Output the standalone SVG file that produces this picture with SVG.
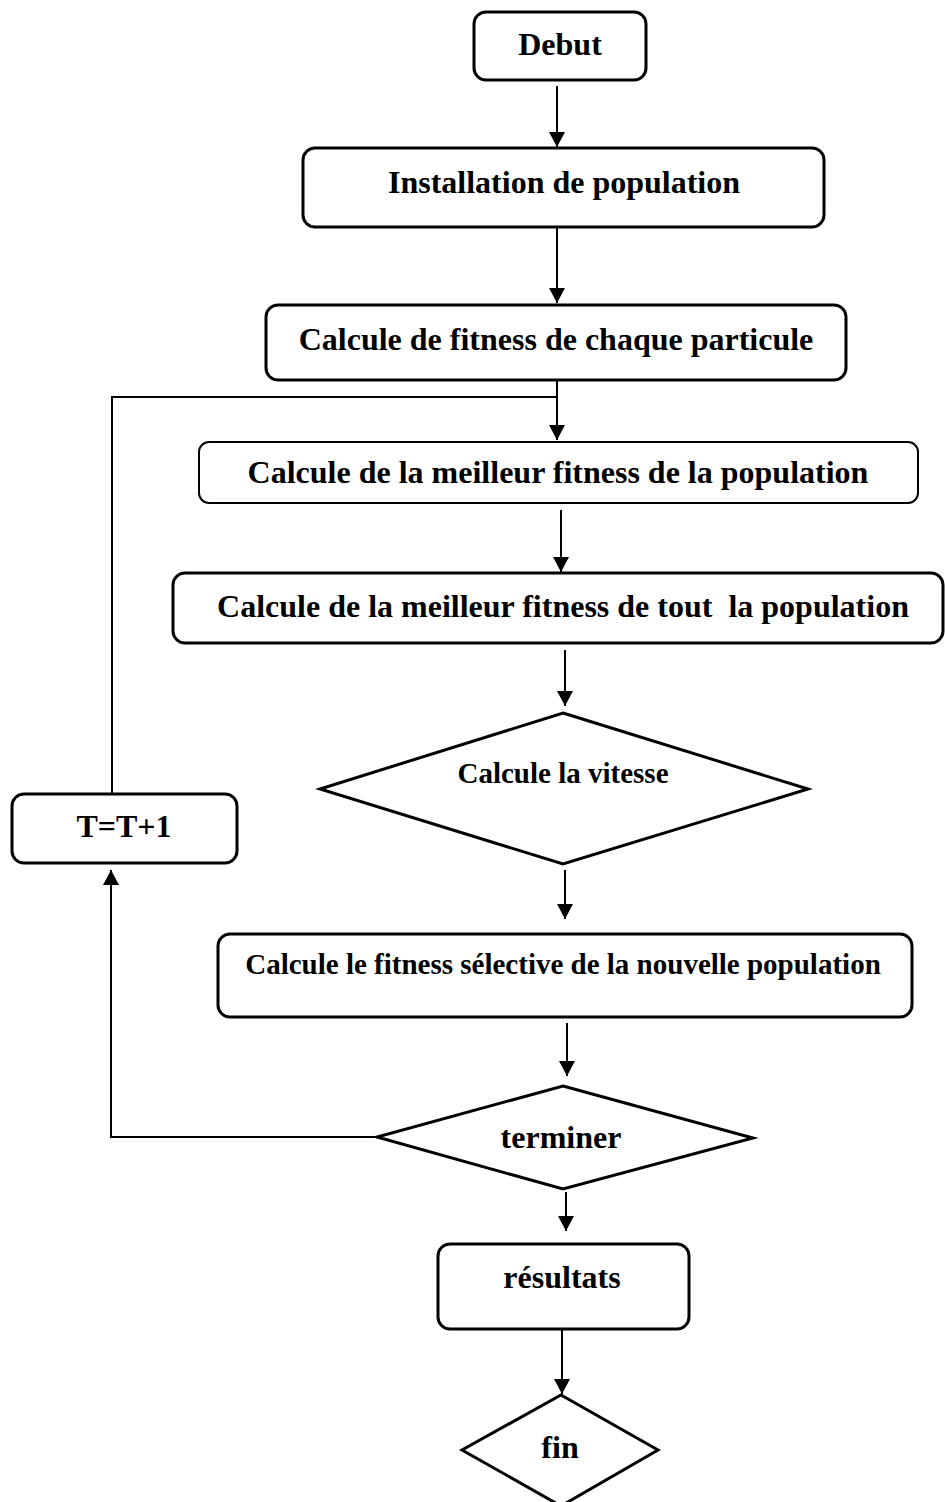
<svg xmlns="http://www.w3.org/2000/svg" width="945" height="1502" viewBox="0 0 945 1502">
  <style>
    .box { fill: #fff; stroke: #000; stroke-width: 3; }
    .thin { stroke-width: 2; }
    .dia { fill: #fff; stroke: #000; stroke-width: 3; stroke-linejoin: miter; }
    .lbl { font-family: "Liberation Serif", "Times New Roman", serif; font-weight: bold; font-size: 32px; fill: #000; text-anchor: middle; white-space: pre; }
    .sm { font-size: 29px; }
    .wire { fill: none; stroke: #000; stroke-width: 2; }
  </style>
  <defs>
    <marker id="head" markerUnits="userSpaceOnUse" markerWidth="16" markerHeight="16" viewBox="0 0 16 16" refX="15" refY="8" orient="auto">
      <path d="M0,0 L15,8 L0,16 Z" fill="#000"/>
    </marker>
  </defs>

  <!-- connectors -->
  <g id="connectors">
    <line class="wire" x1="557" y1="86" x2="557" y2="147" marker-end="url(#head)"/>
    <line class="wire" x1="557" y1="227" x2="557" y2="303" marker-end="url(#head)"/>
    <line class="wire" x1="557" y1="380" x2="557" y2="440" marker-end="url(#head)"/>
    <line class="wire" x1="561" y1="510" x2="561" y2="572" marker-end="url(#head)"/>
    <line class="wire" x1="565" y1="650" x2="565" y2="706" marker-end="url(#head)"/>
    <line class="wire" x1="565" y1="870" x2="565" y2="919" marker-end="url(#head)"/>
    <line class="wire" x1="567" y1="1023" x2="567" y2="1076" marker-end="url(#head)"/>
    <line class="wire" x1="566" y1="1192" x2="566" y2="1231" marker-end="url(#head)"/>
    <line class="wire" x1="562" y1="1330" x2="562" y2="1394" marker-end="url(#head)"/>
    <!-- loop back: terminer -> T=T+1 -->
    <polyline class="wire" points="377,1137 111,1137 111,870" marker-end="url(#head)"/>
    <!-- loop back: T=T+1 -> next iteration -->
    <polyline class="wire" points="112,793 112,397 557,397"/>
  </g>

  <g id="debut">
    <rect class="box" x="474" y="12" width="172" height="68" rx="12"/>
    <text class="lbl" x="560" y="55">Debut</text>
  </g>

  <g id="installation">
    <rect class="box" x="303" y="148" width="521" height="79" rx="12"/>
    <text class="lbl" x="564" y="193">Installation de population</text>
  </g>

  <g id="fitness-particule">
    <rect class="box" x="266" y="305" width="580" height="75" rx="12"/>
    <text class="lbl" x="556" y="350">Calcule de fitness de chaque particule</text>
  </g>

  <g id="meilleur-population">
    <rect class="box thin" x="199" y="442" width="719" height="61" rx="10"/>
    <text class="lbl" x="558" y="483">Calcule de la meilleur fitness de la population</text>
  </g>

  <g id="meilleur-tout">
    <rect class="box" x="173" y="573" width="770" height="70" rx="12"/>
    <text class="lbl" x="563" y="617" xml:space="preserve">Calcule de la meilleur fitness de tout  la population</text>
  </g>

  <g id="vitesse">
    <polygon class="dia" points="563,713 808,789 563,864 320,789"/>
    <text class="lbl sm" x="563" y="783">Calcule la vitesse</text>
  </g>

  <g id="fitness-selective">
    <rect class="box" x="218" y="934" width="694" height="83" rx="12"/>
    <text class="lbl sm" x="563" y="974">Calcule le fitness sélective de la nouvelle population</text>
  </g>

  <g id="terminer">
    <polygon class="dia" points="563,1086 753,1138 563,1189 377,1137"/>
    <text class="lbl" x="561" y="1148">terminer</text>
  </g>

  <g id="increment">
    <rect class="box" x="12" y="794" width="225" height="69" rx="12"/>
    <text class="lbl" x="124" y="837">T=T+1</text>
  </g>

  <g id="resultats">
    <rect class="box" x="438" y="1244" width="251" height="85" rx="12"/>
    <text class="lbl" x="562" y="1288">résultats</text>
  </g>

  <g id="fin">
    <polygon class="dia" points="561,1395 658,1450 561,1506 462,1450"/>
    <text class="lbl" x="560" y="1458">fin</text>
  </g>
</svg>
